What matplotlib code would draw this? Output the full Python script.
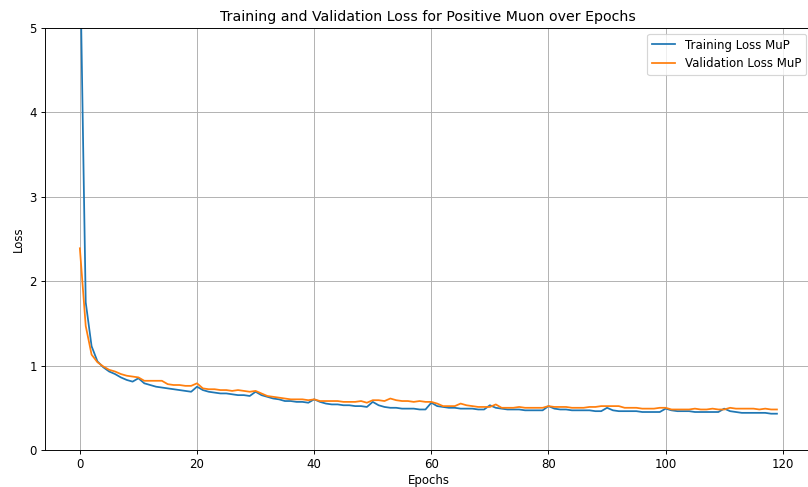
import numpy as np
import matplotlib
matplotlib.use("Agg")
import matplotlib.pyplot as plt

# loss per epoch for the MuP run
train_loss = [6.0, 1.75, 1.23, 1.05, 0.98, 0.93, 0.90, 0.86, 0.83, 0.81,
              0.85, 0.79, 0.77, 0.75, 0.74, 0.73, 0.72, 0.71, 0.70, 0.69,
              0.75, 0.71, 0.69, 0.68, 0.67, 0.67, 0.66, 0.65, 0.65, 0.64,
              0.69, 0.65, 0.63, 0.61, 0.60, 0.58, 0.58, 0.57, 0.57, 0.56,
              0.60, 0.57, 0.55, 0.54, 0.54, 0.53, 0.53, 0.52, 0.52, 0.51,
              0.57, 0.53, 0.51, 0.50, 0.50, 0.49, 0.49, 0.49, 0.48, 0.48,
              0.56, 0.52, 0.51, 0.50, 0.50, 0.49, 0.49, 0.49, 0.48, 0.48,
              0.53, 0.50, 0.49, 0.48, 0.48, 0.48, 0.47, 0.47, 0.47, 0.47,
              0.52, 0.49, 0.48, 0.48, 0.47, 0.47, 0.47, 0.47, 0.46, 0.46,
              0.50, 0.47, 0.46, 0.46, 0.46, 0.46, 0.45, 0.45, 0.45, 0.45,
              0.49, 0.47, 0.46, 0.46, 0.46, 0.45, 0.45, 0.45, 0.45, 0.45,
              0.49, 0.46, 0.45, 0.44, 0.44, 0.44, 0.44, 0.44, 0.43, 0.43]

val_loss = [2.39, 1.47, 1.13, 1.04, 0.99, 0.95, 0.93, 0.90, 0.88, 0.87,
            0.86, 0.82, 0.82, 0.82, 0.82, 0.78, 0.77, 0.77, 0.76, 0.76,
            0.79, 0.73, 0.72, 0.72, 0.71, 0.71, 0.70, 0.71, 0.70, 0.69,
            0.70, 0.67, 0.64, 0.63, 0.62, 0.61, 0.60, 0.60, 0.60, 0.59,
            0.60, 0.58, 0.58, 0.58, 0.58, 0.57, 0.57, 0.57, 0.58, 0.56,
            0.59, 0.59, 0.58, 0.61, 0.59, 0.58, 0.58, 0.57, 0.58, 0.57,
            0.57, 0.55, 0.52, 0.52, 0.52, 0.55, 0.53, 0.52, 0.51, 0.51,
            0.51, 0.54, 0.50, 0.50, 0.50, 0.51, 0.50, 0.50, 0.50, 0.50,
            0.52, 0.51, 0.51, 0.51, 0.50, 0.50, 0.50, 0.51, 0.51, 0.52,
            0.52, 0.52, 0.52, 0.50, 0.50, 0.50, 0.49, 0.49, 0.49, 0.50,
            0.50, 0.48, 0.48, 0.48, 0.48, 0.49, 0.48, 0.48, 0.49, 0.48,
            0.48, 0.50, 0.49, 0.49, 0.49, 0.49, 0.48, 0.49, 0.48, 0.48]

epochs = np.arange(len(train_loss))

# drawn at a reduced dpi so text and lines come out a bit smaller
dpi = 84.5
fig = plt.figure(figsize=(808 / dpi, 487 / dpi), dpi=dpi)
ax = fig.add_axes([0.0557, 0.076, 0.949, 0.8665])
ax.plot(epochs, train_loss, label='Training Loss MuP')
ax.plot(epochs, val_loss, label='Validation Loss MuP')
ax.set_ylim(0, 5)
ax.set_title('Training and Validation Loss for Positive Muon over Epochs')
ax.set_xlabel('Epochs', labelpad=2)
ax.set_ylabel('Loss')
ax.legend(loc='upper right')
ax.grid(True)

fig.savefig('out.png', dpi=dpi)
